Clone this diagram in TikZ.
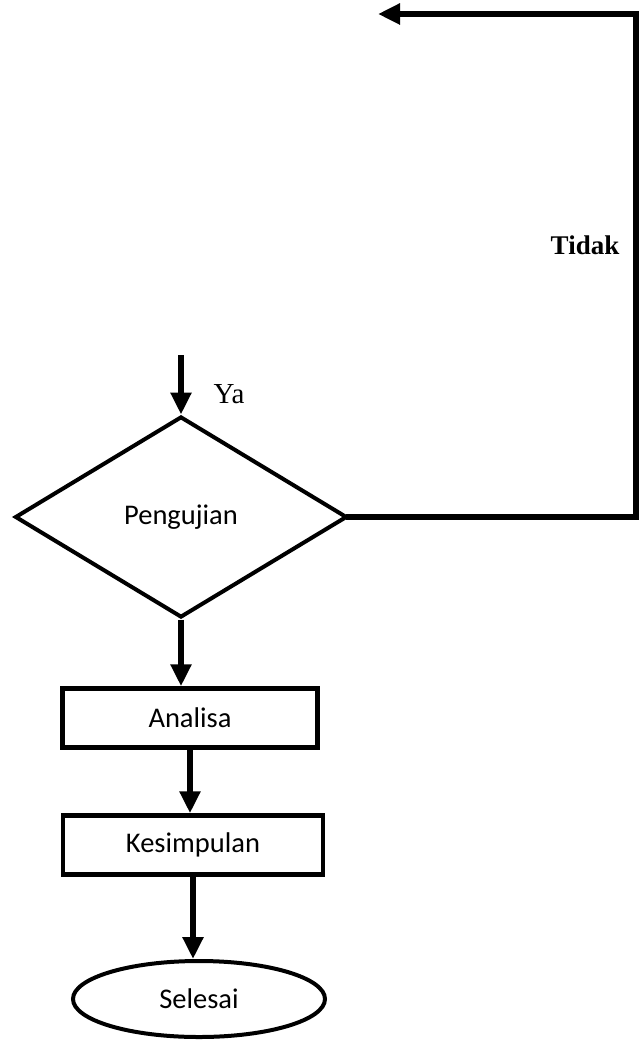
\documentclass[tikz,border=0pt]{standalone}
\usepackage{fontspec}
\setmainfont{Liberation Serif}
\newfontfamily\boxfont{Carlito}
\usetikzlibrary{shapes.geometric,arrows.meta,calc}
\tikzset{
  flowline/.style={line width=5.5pt},
  flowarrow/.style={line width=6pt,-{Triangle[width=20pt,length=22pt]}},
  procbox/.style={draw,line width=4.5pt,minimum width=255pt,minimum height=59pt,inner sep=0pt,font=\boxfont\fontsize{28.5}{30}\selectfont},
  decision/.style={draw,diamond,line width=4pt,minimum width=332pt,minimum height=201pt,inner sep=0pt,font=\boxfont\fontsize{28.5}{30}\selectfont},
  terminal/.style={draw,ellipse,line width=4pt,minimum width=252pt,minimum height=76pt,inner sep=0pt,font=\boxfont\fontsize{28.5}{30}\selectfont},
  lbl/.style={font=\fontsize{29}{30}\selectfont,inner sep=0pt}
}
\begin{document}
\begin{tikzpicture}[x=1pt,y=-1pt]
\useasboundingbox (0,0) rectangle (641,1040);
\node[decision] (dia) at (181,517) {Pengujian};
\node[procbox] (ana) at (190,718) {Analisa};
\node[procbox,minimum width=260pt] (kes) at (193,845) {Kesimpulan};
\node[terminal] (sel) at (199,999) {Selesai};
\coordinate (in) at (181,355);
\coordinate (c1) at (636,517);
\coordinate (c2) at (636,14);
\coordinate (back) at (378,14);
\node[lbl] (ya) at (229,394) {Ya};
\node[lbl,font=\bfseries\fontsize{27}{30}\selectfont] (tidak) at (585,245) {Tidak};
\draw[flowarrow] (in) -- (dia.north);
\draw[flowline,line cap=rect] (dia.east) -- (c1) -- (c2) -- ($(back)+(10,0)$);
\draw[flowarrow] (c2) -- (back);
\draw[flowarrow] (dia.south) -- (dia.south |- ana.north);
\draw[flowarrow] (ana.south) -- (ana.south |- kes.north);
\draw[flowarrow] (kes.south) -- (kes.south |- sel.north);
\end{tikzpicture}
\end{document}
